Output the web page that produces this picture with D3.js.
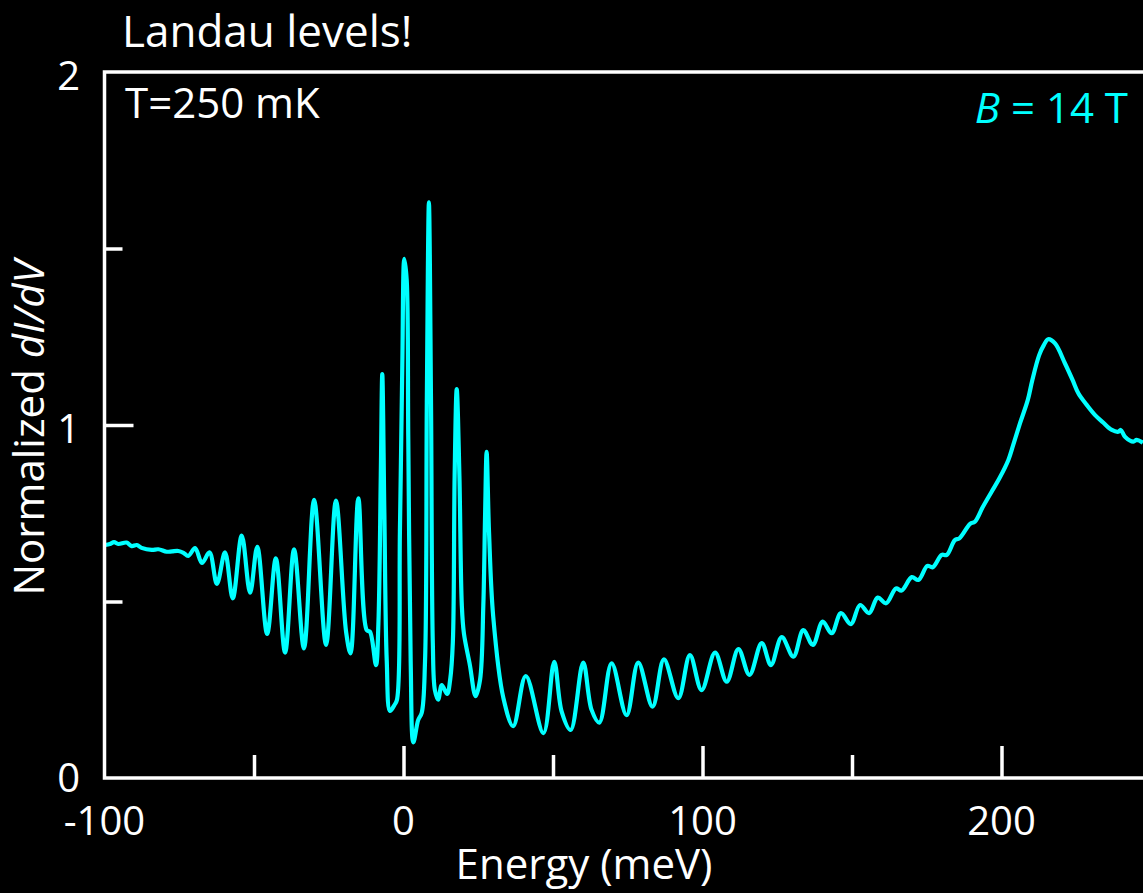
<!DOCTYPE html>
<html>
<head>
<meta charset="utf-8">
<script src="https://cdn.jsdelivr.net/npm/d3@7"></script>
<style>
  html, body { margin: 0; padding: 0; background: #000; overflow: hidden; }
  svg { display: block; }
  text { font-family: "Open Sans", "Noto Sans", sans-serif; fill: #fff; }
</style>
</head>
<body>
<svg id="chart" width="1143" height="893"></svg>
<script>
// Tunnelling spectrum at B = 14 T, T = 250 mK: normalized dI/dV vs energy (meV)
const energy = [
  -99.8, -98.2, -96.8, -95.4, -92.6, -90.9, -89.2, -87.6, -84.2, -82.0,
  -79.2, -77.4, -75.3, -73.6, -72.0, -69.7, -67.4, -64.9, -62.4, -59.7,
  -57.1, -54.1, -51.3, -48.9, -45.6, -42.7, -39.6, -36.6, -33.3, -29.9,
  -25.9, -22.6, -19.2, -17.7, -15.1, -12.3, -11.2, -9.2, -8.4, -7.6,
  -7.1, -6.4, -5.6, -4.5, -3.1, -2.2, -1.2, -0.4, 0.27, 1.07,
  1.6, 2.4, 3.3, 4.9, 6.1, 7.2, 7.8, 8.5, 9.2, 9.8,
  10.5, 11.6, 12.8, 14.6, 15.6, 16.5, 17.1, 17.8, 18.7, 19.5,
  20.2, 22.2, 24.1, 25.6, 26.7, 27.3, 27.8, 28.6, 30.0, 33.4,
  36.7, 40.9, 46.8, 50.4, 52.9, 55.9, 60.1, 62.9, 65.5, 69.6,
  74.6, 78.5, 83.3, 87.1, 91.9, 95.8, 99.7, 104.2, 108.1, 112.0,
  115.7, 119.8, 122.9, 126.5, 130.4, 133.7, 136.9, 140.2, 143.2, 146.3,
  149.6, 152.7, 155.7, 158.6, 161.4, 164.7, 166.6, 170.0, 172.2, 175.2,
  177.0, 180.0, 181.7, 184.4, 185.9, 189.5, 191.1, 193.7, 196.7, 199.3,
  202.3, 203.9, 206.2, 208.8, 210.3, 212.6, 214.2, 215.6, 217.9, 221.2,
  223.8, 225.7, 228.5, 231.3, 234.0, 236.9, 239.1, 239.9, 241.3, 244.1,
  245.2, 247.3
];
const didv = [
  0.660, 0.663, 0.668, 0.663, 0.667, 0.657, 0.660, 0.652, 0.646, 0.648,
  0.641, 0.642, 0.643, 0.638, 0.629, 0.651, 0.609, 0.639, 0.550, 0.639,
  0.509, 0.687, 0.525, 0.655, 0.408, 0.622, 0.355, 0.648, 0.367, 0.788,
  0.377, 0.786, 0.414, 0.353, 0.792, 0.419, 0.414, 0.320, 0.436, 0.856,
  1.144, 0.751, 0.331, 0.190, 0.206, 0.221, 0.698, 1.170, 1.471, 1.411,
  0.960, 0.331, 0.101, 0.164, 0.185, 0.331, 1.065, 1.631, 1.065, 0.384,
  0.249, 0.222, 0.263, 0.238, 0.278, 0.384, 0.856, 1.102, 0.856, 0.490,
  0.410, 0.320, 0.232, 0.278, 0.490, 0.751, 0.924, 0.698, 0.458, 0.227,
  0.147, 0.289, 0.127, 0.329, 0.188, 0.136, 0.327, 0.193, 0.157, 0.325,
  0.178, 0.327, 0.202, 0.336, 0.226, 0.348, 0.249, 0.355, 0.273, 0.365,
  0.292, 0.382, 0.320, 0.399, 0.344, 0.419, 0.377, 0.443, 0.410, 0.467,
  0.436, 0.490, 0.467, 0.511, 0.495, 0.537, 0.531, 0.569, 0.561, 0.601,
  0.597, 0.632, 0.632, 0.674, 0.679, 0.720, 0.726, 0.767, 0.811, 0.849,
  0.901, 0.943, 1.005, 1.071, 1.127, 1.198, 1.227, 1.243, 1.231, 1.175,
  1.127, 1.090, 1.057, 1.028, 1.007, 0.986, 0.981, 0.986, 0.967, 0.953,
  0.958, 0.950
];

const xLabelTicks = [-100, 0, 100, 200];
const xMajorTicks = [0, 100, 200];
const xMinorTicks = [-50, 50, 150];
const yLabelTicks = [0, 1, 2];
const yMajorTicks = [1];
const yMinorTicks = [0.5, 1.5];

const svg = d3.select("#chart");
svg.append("rect").attr("width", 1143).attr("height", 893).attr("fill", "#000");

const plotLeft = 104.5, plotTop = 72, plotBottom = 778;
const x = d3.scaleLinear().domain([-100, 250]).range([plotLeft, plotLeft + 350 * 2.99]);
const y = d3.scaleLinear().domain([0, 2]).range([plotBottom, plotTop]);

const axisColor = "#fff";
const axisWidth = 3.5;

// inward tick marks
function styleAxis(g) {
  g.select(".domain").remove();
  g.selectAll(".tick line").attr("stroke", axisColor).attr("stroke-width", axisWidth);
}
svg.append("g").attr("transform", `translate(0,${plotBottom})`)
  .call(d3.axisBottom(x).tickValues(xMajorTicks).tickSize(-32).tickFormat(""))
  .call(styleAxis);
svg.append("g").attr("transform", `translate(0,${plotBottom})`)
  .call(d3.axisBottom(x).tickValues(xMinorTicks).tickSize(-23).tickFormat(""))
  .call(styleAxis);
svg.append("g").attr("transform", `translate(${plotLeft},0)`)
  .call(d3.axisLeft(y).tickValues(yMajorTicks).tickSize(-29).tickFormat(""))
  .call(styleAxis);
svg.append("g").attr("transform", `translate(${plotLeft},0)`)
  .call(d3.axisLeft(y).tickValues(yMinorTicks).tickSize(-18).tickFormat(""))
  .call(styleAxis);

// tick labels
svg.append("g").selectAll("text").data(xLabelTicks).join("text")
  .attr("x", d => x(d)).attr("y", 835)
  .attr("text-anchor", "middle")
  .attr("font-size", 40)
  .text(d => d);
svg.append("g").selectAll("text").data(yLabelTicks).join("text")
  .attr("x", 80).attr("y", d => y(d) + (d === 0 ? 14 : 18))
  .attr("text-anchor", "end")
  .attr("font-size", 40)
  .text(d => d);

// data curve
const pts = energy.map((e, i) => [e, didv[i]]);
const line = d3.line()
  .x(d => x(d[0]))
  .y(d => y(d[1]))
  .curve(d3.curveCatmullRom.alpha(0.5));
svg.append("path")
  .datum(pts)
  .attr("fill", "none")
  .attr("stroke", "#00ffff")
  .attr("stroke-width", 4.2)
  .attr("stroke-linejoin", "round")
  .attr("d", line);

// plot frame (left, top, bottom; right side runs past the edge)
svg.append("rect")
  .attr("x", plotLeft).attr("y", plotTop)
  .attr("width", x(250) - plotLeft).attr("height", plotBottom - plotTop)
  .attr("fill", "none")
  .attr("stroke", axisColor)
  .attr("stroke-width", axisWidth);

// titles and annotations
svg.append("text").attr("x", 122).attr("y", 47).attr("font-size", 44).text("Landau levels!");
svg.append("text").attr("x", 125).attr("y", 118).attr("font-size", 42).text("T=250 mK");

const bLabel = svg.append("text").attr("x", 1128).attr("y", 123)
  .attr("text-anchor", "end").attr("font-size", 42).style("fill", "#00ffff");
bLabel.append("tspan").attr("font-style", "italic").style("fill", "#00ffff").text("B");
bLabel.append("tspan").style("fill", "#00ffff").text(" = 14 T");

svg.append("text").attr("x", 584).attr("y", 879)
  .attr("text-anchor", "middle").attr("font-size", 42).text("Energy (meV)");

const yLab = svg.append("text")
  .attr("transform", "translate(44,428) rotate(-90)")
  .attr("text-anchor", "middle").attr("font-size", 42);
yLab.append("tspan").text("Normalized ");
yLab.append("tspan").attr("font-style", "italic").text("dI/dV");
</script>
</body>
</html>
